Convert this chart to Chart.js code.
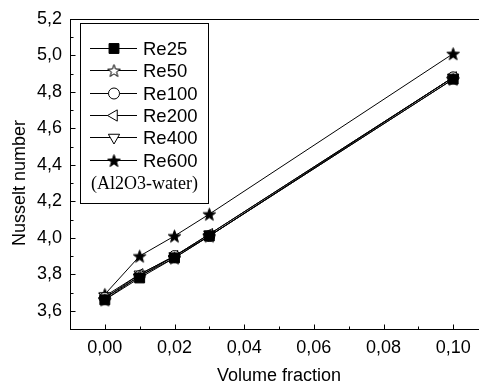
<!DOCTYPE html>
<html>
<head>
<meta charset="utf-8">
<title>Nusselt number vs volume fraction</title>
<script src="https://cdn.jsdelivr.net/npm/chart.js@4.4.0/dist/chart.umd.min.js"></script>
<style>
    html, body { margin: 0; padding: 0; background: #fff; overflow: hidden; }
    #wrap { width: 500px; height: 385px; }
</style>
</head>
<body>
<div id="wrap"><canvas id="nusseltChart" width="500" height="385"></canvas></div>
<script>
// ==========================
// Nusselt number chart
// ==========================

// ---------------- Data ----------------
const volumeFraction = [0.00, 0.01, 0.02, 0.03, 0.10];

const re25  = [3.66, 3.78, 3.89, 4.01, 4.87];
const re50  = [3.66, 3.79, 3.89, 4.01, 4.87];
const re100 = [3.67, 3.79, 3.90, 4.01, 4.88];
const re200 = [3.67, 3.80, 3.90, 4.02, 4.88];
const re400 = [3.68, 3.80, 3.90, 4.02, 4.88];
const re600 = [3.69, 3.90, 4.01, 4.13, 5.01];

const seriesNames = ["Re25", "Re50", "Re100", "Re200", "Re400", "Re600"];
const seriesValues = [re25, re50, re100, re200, re400, re600];

const xTicks = [0.00, 0.02, 0.04, 0.06, 0.08, 0.10];
const yTicks = [3.6, 3.8, 4.0, 4.2, 4.4, 4.6, 4.8, 5.0, 5.2];

const legendNote = "(Al2O3-water)";

// ---------------- Markers ----------------
function makeStar(filled) {
    const size = 15;
    const c = document.createElement("canvas");
    c.width = size;
    c.height = size;
    const g = c.getContext("2d");
    const cx = size / 2, cy = size / 2 + 0.7, ro = 6.6, ri = 2.7;
    g.beginPath();
    for (let k = 0; k < 10; k++) {
        const r = k % 2 ? ri : ro;
        const a = -Math.PI / 2 + k * Math.PI / 5;
        g.lineTo(cx + r * Math.cos(a), cy + r * Math.sin(a));
    }
    g.closePath();
    g.fillStyle = filled ? "#000" : "#fff";
    g.fill();
    g.lineWidth = 1;
    g.strokeStyle = "#000";
    g.stroke();
    return c;
}

const markers = [
    { style: "rect",          radius: 7,   fill: "#000", rotation: 0 },
    { style: makeStar(false), radius: 7,   fill: "#fff", rotation: 0 },
    { style: "circle",        radius: 5.5, fill: "#fff", rotation: 0 },
    { style: "triangle",      radius: 6.5, fill: "#fff", rotation: -90 },
    { style: "triangle",      radius: 6.5, fill: "#fff", rotation: 180 },
    { style: makeStar(true),  radius: 7,   fill: "#000", rotation: 0 }
];

const FONT = "Arial, 'Liberation Sans', sans-serif";

// ---------------- Frame, ticks, legend ----------------
const framePlugin = {
    id: "framePlugin",
    beforeDatasetsDraw(chart) {
        const { ctx, chartArea: a } = chart;
        const xs = chart.scales.x, ys = chart.scales.y;
        ctx.save();
        ctx.strokeStyle = "#000";
        ctx.lineWidth = 1;
        ctx.strokeRect(Math.round(a.left) + 0.5, Math.round(a.top) + 0.5,
            Math.round(a.right - a.left), Math.round(a.bottom - a.top));

        // inward major / minor ticks
        ctx.beginPath();
        const bottom = Math.round(a.bottom) + 0.5;
        const left = Math.round(a.left) + 0.5;
        xs.ticks.forEach((t, i) => {
            const px = Math.round(xs.getPixelForValue(t.value)) + 0.5;
            ctx.moveTo(px, bottom);
            ctx.lineTo(px, bottom - 5);
            if (i < xs.ticks.length - 1) {
                const mid = (t.value + xs.ticks[i + 1].value) / 2;
                const pm = Math.round(xs.getPixelForValue(mid)) + 0.5;
                ctx.moveTo(pm, bottom);
                ctx.lineTo(pm, bottom - 3);
            }
        });
        ys.ticks.forEach((t, i) => {
            const py = Math.round(ys.getPixelForValue(t.value)) + 0.5;
            ctx.moveTo(left, py);
            ctx.lineTo(left + 5, py);
            if (i < ys.ticks.length - 1) {
                const mid = (t.value + ys.ticks[i + 1].value) / 2;
                const pm = Math.round(ys.getPixelForValue(mid)) + 0.5;
                ctx.moveTo(left, pm);
                ctx.lineTo(left + 3, pm);
            }
        });
        ctx.stroke();

        // y axis title
        ctx.translate(20, 183);
        ctx.rotate(-Math.PI / 2);
        ctx.fillStyle = "#000";
        ctx.font = "18px " + FONT;
        ctx.textAlign = "center";
        ctx.textBaseline = "middle";
        ctx.fillText("Nusselt number", 0, 0);
        ctx.restore();
    },
    afterDatasetsDraw(chart) {
        const { ctx } = chart;
        ctx.save();
        ctx.fillStyle = "#fff";
        ctx.fillRect(80.5, 23.5, 128, 180);
        ctx.strokeStyle = "#000";
        ctx.lineWidth = 1;
        ctx.strokeRect(80.5, 23.5, 128, 180);

        chart.data.datasets.forEach((ds, i) => {
            const y = Math.round(48 + i * 22.3) + 0.5;
            ctx.strokeStyle = "#000";
            ctx.lineWidth = 1;
            ctx.beginPath();
            ctx.moveTo(90, y);
            ctx.lineTo(137, y);
            ctx.stroke();
            ctx.fillStyle = ds.pointBackgroundColor;
            Chart.helpers.drawPoint(ctx, {
                pointStyle: ds.pointStyle,
                rotation: ds.pointRotation,
                radius: ds.pointRadius,
                borderWidth: 1
            }, 114, y);
            ctx.fillStyle = "#000";
            ctx.font = "18.5px " + FONT;
            ctx.textAlign = "left";
            ctx.textBaseline = "middle";
            ctx.fillText(ds.label, 143, y + 1);
        });
        ctx.font = "18px 'Times New Roman', 'Liberation Serif', serif";
        ctx.fillText(legendNote, 91, 184);
        ctx.restore();
    }
};

// ---------------- Chart ----------------
const datasets = seriesNames.map((name, i) => ({
    label: name,
    data: volumeFraction.map((x, j) => ({ x: x, y: seriesValues[i][j] })),
    borderColor: "#000",
    borderWidth: 1,
    pointStyle: markers[i].style,
    pointRadius: markers[i].radius,
    pointRotation: markers[i].rotation,
    pointBackgroundColor: markers[i].fill,
    pointBorderColor: "#000",
    pointBorderWidth: 1,
    tension: 0,
    fill: false
}));

const ctx = document.getElementById("nusseltChart").getContext("2d");

new Chart(ctx, {
    type: "scatter",
    data: { datasets: datasets },
    options: {
        responsive: false,
        animation: false,
        showLine: true,
        layout: { padding: { top: 19, right: 12, left: 0, bottom: 0 } },
        plugins: {
            legend: { display: false },
            tooltip: { enabled: false }
        },
        scales: {
            x: {
                type: "linear",
                min: -0.01,
                max: 0.11,
                afterBuildTicks: s => { s.ticks = xTicks.map(v => ({ value: v })); },
                afterFit: s => { s.height = 56; },
                grid: { display: false, drawTicks: false },
                border: { display: false },
                ticks: {
                    padding: 8,
                    color: "#000",
                    font: { family: FONT, size: 18 },
                    maxRotation: 0,
                    callback: v => Number(v).toFixed(2).replace(".", ",")
                },
                title: {
                    display: true,
                    text: "Volume fraction",
                    color: "#000",
                    font: { family: FONT, size: 18 },
                    padding: { top: 0, bottom: -2 }
                }
            },
            y: {
                type: "linear",
                min: 3.5,
                max: 5.2,
                afterBuildTicks: s => { s.ticks = yTicks.map(v => ({ value: v })); },
                afterFit: s => { s.width = 70; },
                grid: { display: false, drawTicks: false },
                border: { display: false },
                ticks: {
                    padding: 8,
                    color: "#000",
                    font: { family: FONT, size: 18 },
                    callback: v => Number(v).toFixed(1).replace(".", ",")
                }
            }
        }
    },
    plugins: [framePlugin]
});
</script>
</body>
</html>
